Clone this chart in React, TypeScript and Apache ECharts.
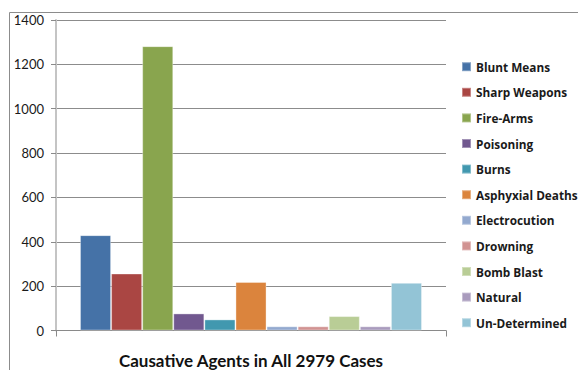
import React, { useEffect, useRef } from "react";
import * as echarts from "echarts";

const categories = ["Blunt Means", "Sharp Weapons", "Fire-Arms", "Poisoning", "Burns", "Asphyxial Deaths", "Electrocution", "Drowning", "Bomb Blast", "Natural", "Un-Determined"];
const values = [430, 257, 1282, 77, 50, 219, 19, 19, 65, 19, 215];
const colors = ["#4572A7", "#AA4643", "#89A54E", "#71588F", "#4198AF", "#DB843D", "#93A9CF", "#D19392", "#B9CD96", "#A99BBD", "#93C4D6"];
const yTicks = [0, 200, 400, 600, 800, 1000, 1200, 1400];
const titleText = "Causative Agents in All 2979 Cases";

export default function App() {
  const ref = useRef<HTMLDivElement>(null);
  useEffect(() => {
    if (!ref.current) return;
    const chart = echarts.init(ref.current, null, { renderer: "svg" });
    chart.setOption({
      animation: false,
      backgroundColor: "#ffffff",
      textStyle: { fontFamily: "Lato" },
      grid: { left: 56, right: 132, top: 20, bottom: 39.5 },
      xAxis: {
        type: "category",
        data: [""],
        axisLine: { lineStyle: { color: "#8a8a8a", width: 1 } },
        axisTick: { show: true, length: 6, lineStyle: { color: "#8a8a8a" } },
        axisLabel: { show: false },
      },
      yAxis: {
        type: "value",
        min: 0,
        max: yTicks[yTicks.length - 1],
        interval: 200,
        axisLine: { show: true, lineStyle: { color: "#c4c4c4", width: 2 } },
        axisTick: { show: true, length: 5, lineStyle: { color: "#8a8a8a" } },
        axisLabel: { color: "#1a1a1a", fontSize: 13, fontFamily: "Lato", margin: 12, formatter: (v: number) => String(v) },
        splitLine: { lineStyle: { color: "#8c8c8c", width: 1 } },
      },
      legend: {
        orient: "vertical",
        left: 461,
        top: 59.7,
        padding: 0,
        itemWidth: 9,
        itemHeight: 9,
        itemGap: 11.6,
        icon: "rect",
        textStyle: { fontSize: 11.8, fontWeight: "bold", color: "#1a1a1a", fontFamily: "Open Sans", lineHeight: 14 },
        data: categories,
      },
      graphic: [
        {
          type: "rect",
          shape: { x: 9.5, y: 12.5, width: 580, height: 400 },
          style: { fill: "none", stroke: "#8c8c8c", lineWidth: 1 },
          silent: true,
        },
        {
          type: "text",
          x: 251,
          y: 360,
          style: {
            text: titleText,
            fontSize: 17,
            fontWeight: "bold",
            fontFamily: "Lato",
            fill: "#111111",
            textAlign: "center",
            textVerticalAlign: "middle",
          },
        },
      ],
      series: categories.map((name, i) => ({
        type: "bar",
        name,
        data: [values[i]],
        barGap: "0%",
        barCategoryGap: "12.3%",
        itemStyle: { color: colors[i], borderColor: "rgba(255,255,255,0.35)", borderWidth: 1 },
      })),
    });
    return () => chart.dispose();
  }, []);
  return <div ref={ref} style={{ width: 578, height: 370, position: "absolute", left: 0, top: 0 }} />;
}
